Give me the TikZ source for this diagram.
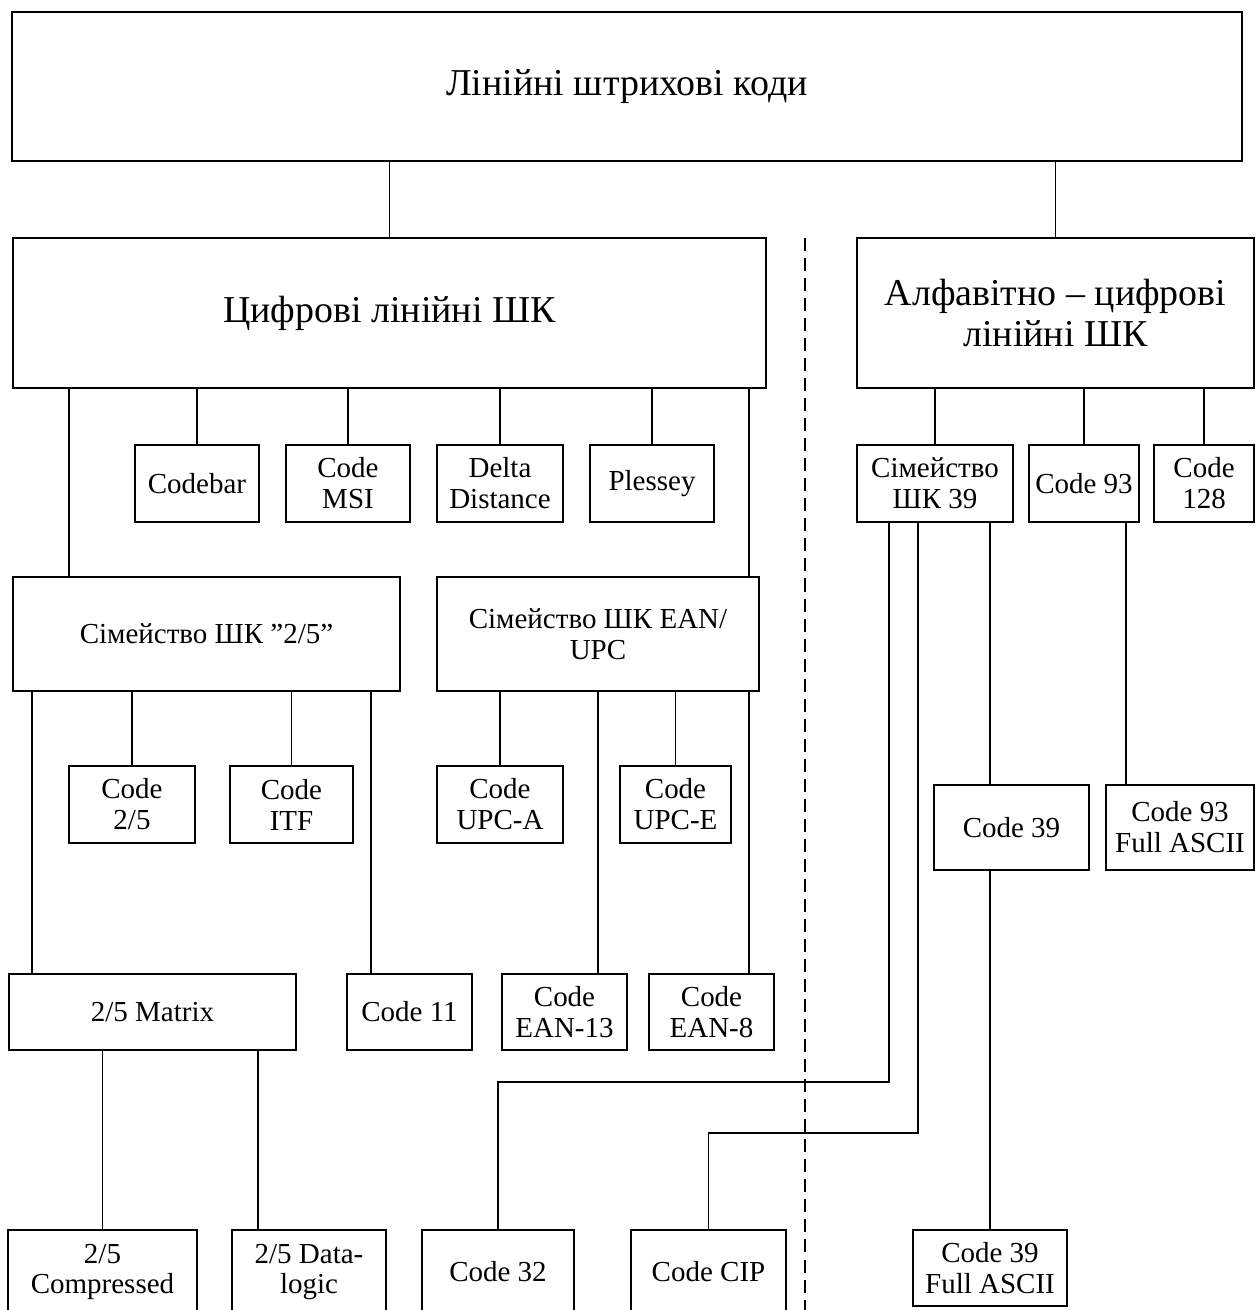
\documentclass[tikz,border=0pt]{standalone}
\usepackage{fontspec}
\setmainfont{Liberation Serif}

\begin{document}
\begin{tikzpicture}[
  x=0.02cm, y=-0.02cm,
  box/.style={draw, line width=1.2pt, rectangle, inner sep=0pt, align=center,
              font=\fontsize{16.5}{17.6}\selectfont},
  bigbox/.style={box, font=\fontsize{21.6}{22.8}\selectfont},
  small/.style={box, minimum height=1.54cm},
  link/.style={line width=0.8pt},
  sep/.style={line width=0.95pt, dash pattern=on 7.4pt off 4pt}
]
\useasboundingbox (0,0) rectangle (1255,1310);

\node[bigbox, minimum width=24.6cm, minimum height=2.98cm] (top) at (627,86.5) {Лінійні штрихові коди};
\node[bigbox, minimum width=15.06cm, minimum height=3cm] (dig) at (389.5,313) {Цифрові лінійні ШК};
\node[bigbox, minimum width=7.94cm, minimum height=3cm] (alpha) at (1055.5,313) {Алфавітно – цифрові\\лінійні ШК};

\node[small, minimum width=2.48cm] (codebar) at (197,483.5) {Codebar};
\node[small, minimum width=2.48cm] (msi) at (348,483.5) {Code\\MSI};
\node[small, minimum width=2.52cm] (delta) at (500,483.5) {Delta\\Distance};
\node[small, minimum width=2.48cm] (plessey) at (652,483.5) {Plessey};
\node[small, minimum width=3.12cm] (fam39) at (935,483.5) {Сімейство\\ШК 39};
\node[small, minimum width=2.2cm] (c93) at (1084,483.5) {Code 93};
\node[small, minimum width=2cm] (c128) at (1204,483.5) {Code\\128};

\node[box, minimum width=7.74cm, minimum height=2.28cm] (fam25) at (206.5,634) {Сімейство ШК ”2/5”};
\node[box, minimum width=6.44cm, minimum height=2.28cm] (eanupc) at (598,634) {Сімейство ШК EAN/\\UPC};

\node[small, minimum width=2.52cm] (code25) at (132,804.5) {Code\\2/5};
\node[small, minimum width=2.46cm] (itf) at (291.5,804.5) {Code\\ITF};
\node[small, minimum width=2.52cm] (upca) at (500,804.5) {Code\\UPC-A};
\node[small, minimum width=2.22cm] (upce) at (675.5,804.5) {Code\\UPC-E};
\node[box, minimum width=3.1cm, minimum height=1.7cm] (code39) at (1011.5,827.5) {Code 39};
\node[box, minimum width=2.96cm, minimum height=1.7cm] (c93fa) at (1180,827.5) {Code 93\\Full ASCII};

\node[box, minimum width=5.74cm, minimum height=1.52cm] (matrix) at (152.5,1012) {2/5 Matrix};
\node[box, minimum width=2.5cm, minimum height=1.52cm] (code11) at (409.5,1012) {Code 11};
\node[box, minimum width=2.5cm, minimum height=1.52cm] (ean13) at (564.5,1012) {Code\\EAN-13};
\node[box, minimum width=2.5cm, minimum height=1.52cm] (ean8) at (711.5,1012) {Code\\EAN-8};

\node[box, minimum width=3.78cm, minimum height=1.68cm] (comp) at (102.5,1272) {2/5\\Compressed};
\node[box, minimum width=3.08cm, minimum height=1.68cm] (dl) at (309,1272) {2/5 Data-\\logic};
\node[box, minimum width=3.04cm, minimum height=1.68cm] (c32) at (498,1272) {Code 32};
\node[box, minimum width=3.1cm, minimum height=1.68cm] (cip) at (708.5,1272) {Code CIP};
\node[box, minimum width=3.08cm, minimum height=1.52cm] (c39fa) at (990,1268) {Code 39\\Full ASCII};

\draw[link] (dig.north) -- (dig.north |- top.south);
\draw[link] (alpha.north) -- (alpha.north |- top.south);
\draw[link] (codebar.north) -- (codebar.north |- dig.south);
\draw[link] (msi.north) -- (msi.north |- dig.south);
\draw[link] (delta.north) -- (delta.north |- dig.south);
\draw[link] (plessey.north) -- (plessey.north |- dig.south);
\draw[link] (dig.south -| 69,0) -- (fam25.north -| 69,0);
\draw[link] (dig.south -| 749,0) -- (eanupc.north -| 749,0);

\draw[link] (fam25.south -| 32,0) -- (matrix.north -| 32,0);
\draw[link] (code25.north) -- (code25.north |- fam25.south);
\draw[link] (itf.north) -- (itf.north |- fam25.south);
\draw[link] (fam25.south -| 371,0) -- (code11.north -| 371,0);
\draw[link] (upca.north) -- (upca.north |- eanupc.south);
\draw[link] (upce.north) -- (upce.north |- eanupc.south);
\draw[link] (eanupc.south) -- (eanupc.south |- ean13.north);
\draw[link] (eanupc.south -| 749,0) -- (ean8.north -| 749,0);
\draw[link] (comp.north) -- (comp.north |- matrix.south);
\draw[link] (matrix.south -| 258,0) -- (dl.north -| 258,0);

\draw[link] (fam39.north) -- (fam39.north |- alpha.south);
\draw[link] (c93.north) -- (c93.north |- alpha.south);
\draw[link] (c128.north) -- (c128.north |- alpha.south);
\draw[link] (fam39.south -| 990,0) -- (code39.north -| 990,0);
\draw[link] (c39fa.north) -- (c39fa.north |- code39.south);
\draw[link] (c93.south -| 1126,0) -- (c93fa.north -| 1126,0);
\draw[link] (fam39.south -| 889,0) |- (c32.north |- 0,1082) -- (c32.north);
\draw[link] (fam39.south -| 918,0) |- (cip.north |- 0,1133) -- (cip.north);

\draw[sep] (805,238) -- (805,1310);
\end{tikzpicture}
\end{document}
